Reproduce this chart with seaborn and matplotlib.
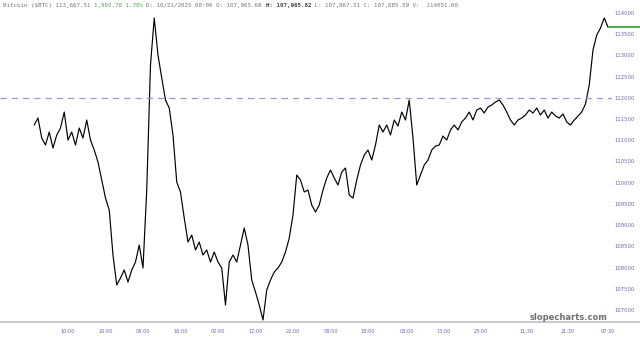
import matplotlib
matplotlib.use("Agg")
import matplotlib.pyplot as plt
import seaborn as sns
import pandas as pd
from matplotlib.lines import Line2D

# ---- data (hourly closes) ----
hours = list(range(1, 155))
close = [
    111360, 111525, 111053, 110888, 111195, 110818, 111124, 111289, 111666, 111006,
    111195, 110888, 111289, 111053, 111478, 111006, 110771, 110488, 110063, 109639,
    109356, 108296, 107589, 107753, 107942, 107659, 107942, 108131, 108531, 107989,
    109828, 112774, 113882, 113010, 112468, 111949, 111760, 111124, 110016, 109781,
    109168, 108602, 108767, 108414, 108602, 108296, 108414, 108131, 108366, 108131,
    107989, 107117, 108131, 108296, 108131, 108531, 108932, 108531, 107706, 107424,
    107117, 106764, 107471, 107706, 107895, 107989, 108131, 108366, 108696, 109238,
    110181, 110063, 109781, 109828, 109474, 109309, 109474, 109828, 110111, 110299,
    110111, 109946, 110252, 110346, 109710, 109639, 110063, 110417, 110653, 110771,
    110535, 110888, 111360, 111195, 111360, 111124, 111478, 111336, 111666, 111478,
    111949, 111053, 109946, 110181, 110417, 110535, 110771, 110865, 110888, 111100,
    111006, 111242, 111360, 111242, 111431, 111525, 111666, 111478, 111713, 111760,
    111643, 111784, 111831, 111902, 111949, 111831, 111666, 111478, 111360, 111478,
    111525, 111596, 111713, 111643, 111760, 111596, 111713, 111525, 111666, 111572,
    111525, 111619, 111431, 111360, 111478, 111572, 111666, 111855, 112303, 113128,
    113481, 113646, 113882, 113667.51,
]
tick_pos = [10, 20, 30, 40, 50, 60, 70, 80, 90, 100.4, 110.3, 120.1, 132.4, 143.3, 154]
tick_labels = ["10:00", "20:00", "06:00", "16:00", "02:00", "12:00", "22:00",
               "08:00", "18:00", "03:00", "13:00", "23:00", "11:30", "21:30", "07:30"]
y_ticks = list(range(107000, 114001, 500))
ref_level = 112000
last_price = 113667.51

header_parts = [
    ("Bitcoin ($BTC) 113,667.51 ", "#777777", "normal"),
    ("1,992.78 1.78% ", "#5aa55a", "normal"),
    ("D: 10/21/2025 00:00 O: 107,965.68 ", "#777777", "normal"),
    ("H: 107,965.82", "#444444", "bold"),
    (" L: 107,867.31 C: 107,885.59 V:  114051.00", "#777777", "normal"),
]

df = pd.DataFrame({"hour": hours, "close": close})

sns.set_style("white")
W, H = 640, 339
fig = plt.figure(figsize=(W / 100, H / 100), dpi=100)
ax = fig.add_axes([0, 1 - 322 / H, 612 / W, (322 - 8) / H])

sns.lineplot(data=df, x="hour", y="close", ax=ax, color="black", linewidth=0.85)
ax.axhline(ref_level, color="#9a9ad0", linestyle=(0, (5, 4)), linewidth=0.9)

ax.set_xlim(-8.13, 155.07)
ax.set_ylim(106717, 114118)
for s in ax.spines.values():
    s.set_visible(False)
ax.set_xlabel("")
ax.set_ylabel("")
ax.yaxis.tick_right()
ax.set_yticks(y_ticks)
ax.set_yticklabels([str(v) for v in y_ticks])
ax.set_xticks(tick_pos)
ax.set_xticklabels(tick_labels)
ax.tick_params(axis="y", length=0, pad=2, labelsize=3.8, labelcolor="#6a6aa8")
ax.tick_params(axis="x", length=0, pad=5, labelsize=3.6, labelcolor="#6a6aa8")
ax.grid(False)

# current-price green line
ax.plot([154, 168], [last_price, last_price], color="#2e9e2e", linewidth=1.2,
        clip_on=False, solid_capstyle="butt")

# bottom line across the figure
fig.add_artist(Line2D([0, 1], [1 - 322 / H, 1 - 322 / H], transform=fig.transFigure,
                      color="#c0c0c0", linewidth=1.2))

# header, segments placed one after another using measured widths
fig.canvas.draw()
renderer = fig.canvas.get_renderer()
xpix = 3.0
for txt, col, wt in header_parts:
    t = fig.text(xpix / W, 1 - 5 / H, txt, family="DejaVu Sans Mono",
                 fontsize=4.2, color=col, weight=wt, va="center", ha="left")
    bb = t.get_window_extent(renderer=renderer)
    xpix += bb.width

fig.text(607 / W, 1 - 317 / H, "slopecharts.com", fontsize=6, weight="bold",
         color="#707070", ha="right", va="center")

fig.savefig("out.png", dpi=100)
